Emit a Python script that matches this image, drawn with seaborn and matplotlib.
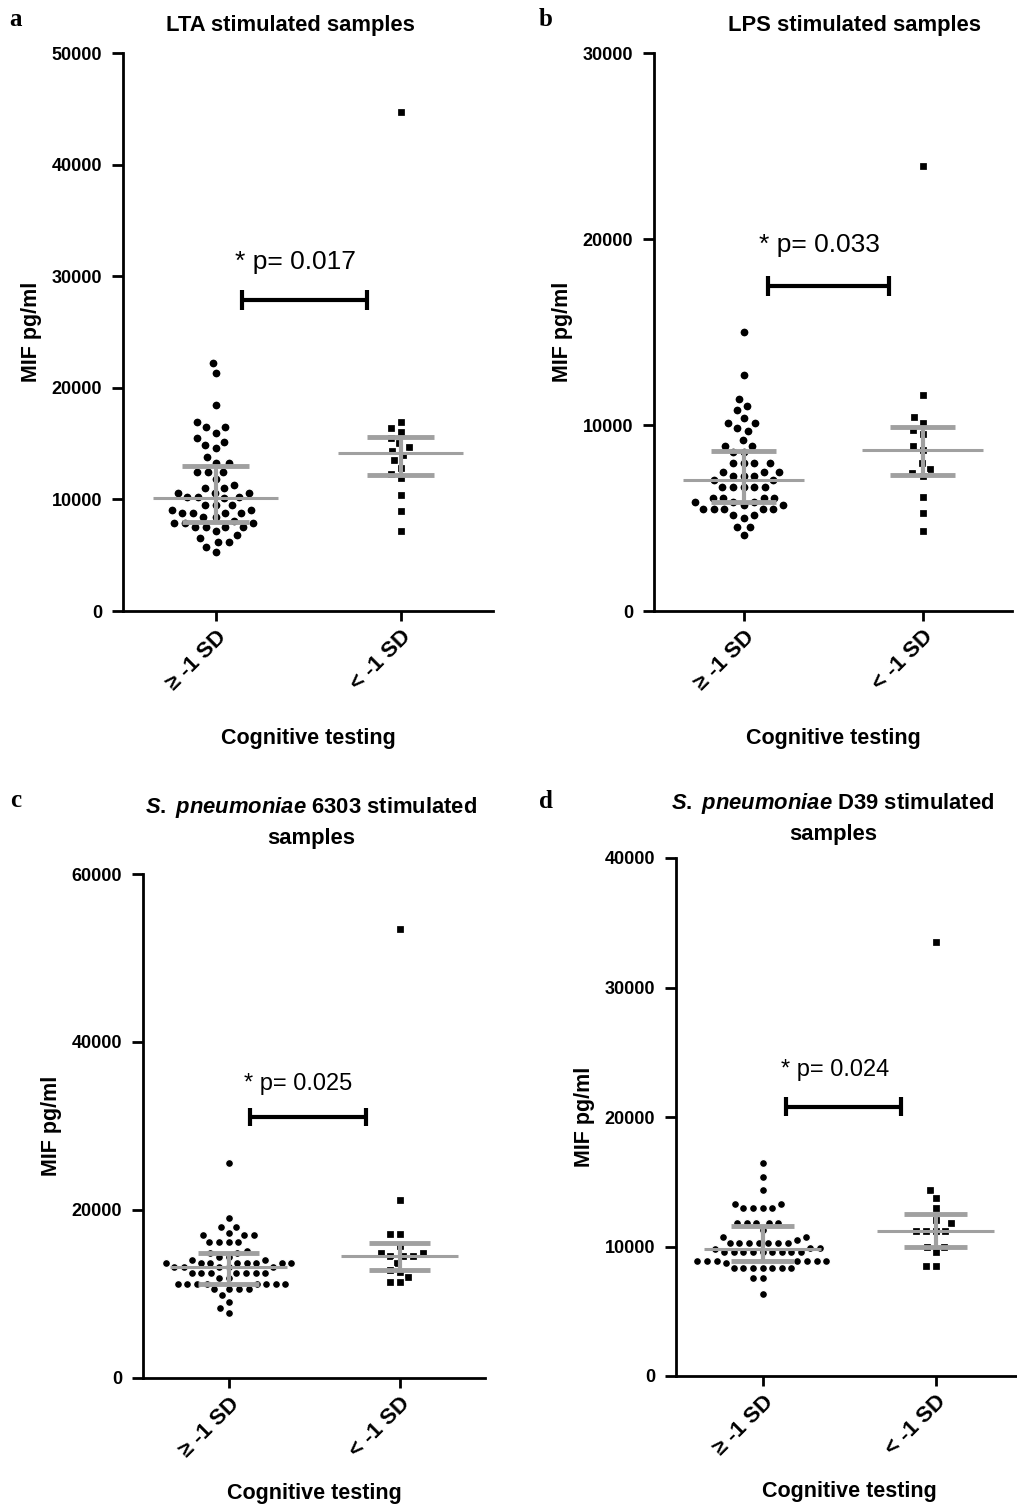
import numpy as np
import pandas as pd
import matplotlib
matplotlib.use("Agg")
import matplotlib.pyplot as plt
import seaborn as sns

sns.set_theme(style="white")
plt.rcParams['font.family'] = ['Liberation Sans', 'DejaVu Sans']
plt.rcParams['mathtext.fontset'] = 'custom'
plt.rcParams['mathtext.it'] = 'Liberation Sans:italic:bold'
plt.rcParams['mathtext.rm'] = 'Liberation Sans:bold'
for key in ['text.color', 'axes.labelcolor', 'xtick.color', 'ytick.color']:
    plt.rcParams[key] = 'black'

groups = ["\u2265 -1 SD", "< -1 SD"]

# MIF values (pg/ml)
lta_high = [22200, 21300, 18460, 16900, 16470, 16470, 15980, 15470, 15170, 14880,
            14630, 13770, 13230, 13230, 12450, 12450, 12450, 11830, 11290, 11020,
            11020, 10600, 10600, 10600, 10240, 10240, 10240, 10100, 9500, 9500,
            9500, 9050, 9050, 8780, 8780, 8780, 8780, 8420, 8420, 8070, 7890,
            7890, 7890, 7530, 7530, 7530, 7530, 7170, 6810, 6540, 6210, 6210,
            5760, 5310]
lta_low = [44700, 16900, 16400, 16000, 15500, 15030, 14700, 14380, 14000, 13500,
           12800, 12300, 11890, 10390, 8960, 7170]

lps_high = [15020, 12690, 11380, 11040, 10810, 10360, 10090, 10090, 9820, 9680,
            9190, 8890, 8890, 8530, 8530, 7950, 7950, 7950, 7950, 7490, 7490,
            7490, 7260, 7260, 7260, 7040, 7040, 6670, 6670, 6670, 6670, 6670,
            6100, 6100, 6100, 6100, 5880, 5880, 5880, 5700, 5700, 5480, 5480,
            5480, 5480, 5480, 5160, 5160, 5000, 4530, 4530, 4090]
lps_low = [23900, 11610, 10410, 10090, 9730, 9520, 8870, 8660, 7940, 7630, 7400,
           7260, 6150, 5250, 4300]

sp6303_high = [25630, 19010, 18010, 18010, 17300, 17020, 17020, 17020, 16190,
               16190, 16190, 16190, 15120, 14840, 14840, 14440, 14440, 14050,
               14050, 13650, 13650, 13650, 13650, 13650, 13650, 13650, 13650,
               13180, 13180, 13180, 13180, 13180, 12540, 12540, 12540, 12540,
               12540, 12540, 12540, 11900, 11900, 11190, 11190, 11190, 11190,
               11190, 11190, 11190, 11190, 10560, 10560, 10560, 10560, 9880,
               9080, 8290, 7780]
sp6303_low = [53450, 21190, 17100, 17100, 15750, 14840, 14840, 14560, 14560,
              14560, 13730, 12900, 12660, 11990, 11470, 11470]

d39_high = [16430, 15390, 14360, 13260, 13260, 12950, 12950, 12950, 12950, 11850,
            11850, 11850, 11850, 11850, 11300, 10760, 10760, 10500, 10250, 10250,
            10250, 10250, 10250, 10250, 10250, 9860, 9860, 9780, 9600, 9600, 9600,
            9600, 9600, 9600, 9600, 9600, 9600, 8880, 8880, 8880, 8880, 8880,
            8880, 8880, 8750, 8320, 8320, 8320, 8320, 8320, 8320, 8320, 7540,
            7540, 6330]
d39_low = [33510, 14360, 13770, 13000, 12050, 11790, 11200, 11200, 11200, 11200,
           9980, 9980, 9600, 8490, 8490]

panels = [
    dict(letter="a", title="LTA stimulated samples", high=lta_high, low=lta_low,
         ymax=50000, step=10000, p="* p= 0.017", bar_y=27900, text_y=31300,
         text_x=0.43, p_size=19, bar_x=(0.145, 0.82), box=(123, 53, 493, 611),
         dot=(5.6, 5.4, 0.9), xlabelpad=24,
         title_xy=(290, 25), letter_xy=(16, 20)),
    dict(letter="b", title="LPS stimulated samples", high=lps_high, low=lps_low,
         ymax=30000, step=10000, p="* p= 0.033", bar_y=17470, text_y=19700,
         text_x=0.425, p_size=19, bar_x=(0.135, 0.815), box=(654, 53, 1012, 611),
         dot=(5.6, 5.4, 0.9), xlabelpad=24,
         title_xy=(855, 25), letter_xy=(546, 20)),
    dict(letter="c", title="$\\it{S.}$ $\\it{pneumoniae}$ 6303 stimulated\nsamples",
         high=sp6303_high, low=sp6303_low,
         ymax=60000, step=20000, p="* p= 0.025", bar_y=31100, text_y=35000,
         text_x=0.41, p_size=17, bar_x=(0.123, 0.807), box=(143, 874, 485, 1378),
         dot=(4.8, 4.9, 0.9), xlabelpad=15,
         title_xy=(311, 822), letter_xy=(16, 800)),
    dict(letter="d", title="$\\it{S.}$ $\\it{pneumoniae}$ D39 stimulated\nsamples",
         high=d39_high, low=d39_low,
         ymax=40000, step=10000, p="* p= 0.024", bar_y=20800, text_y=23600,
         text_x=0.42, p_size=17, bar_x=(0.133, 0.80), box=(676, 858, 1022, 1376),
         dot=(4.8, 4.9, 0.9), xlabelpad=15,
         title_xy=(833, 818), letter_xy=(546, 802)),
]

W, H = 1017, 1505
fig = plt.figure(figsize=(W / 100, H / 100), dpi=100)
grey = "#a0a0a0"

for pn in panels:
    l, t, r, b = pn["box"]
    ax = fig.add_axes([l / W, 1 - b / H, (r - l) / W, (b - t) / H])
    circ, sq, ew = pn["dot"]

    # white rims keep the gaps between neighbouring points
    sns.swarmplot(x=[groups[0]] * len(pn["high"]), y=pn["high"], order=groups,
                  color="black", marker="o", size=circ + ew, edgecolor="white",
                  linewidth=ew, ax=ax, zorder=2)
    sns.swarmplot(x=[groups[1]] * len(pn["low"]), y=pn["low"], order=groups,
                  color="black", marker="s", size=sq + ew, edgecolor="white",
                  linewidth=ew, ax=ax, zorder=2)

    # median with interquartile range
    for i, vals in enumerate([pn["high"], pn["low"]]):
        q1, med, q3 = np.percentile(vals, [25, 50, 75])
        ax.hlines(med, i - 0.34, i + 0.34, color=grey, lw=2.2, zorder=3)
        ax.vlines(i, q1, q3, color=grey, lw=3, zorder=3)
        ax.hlines([q1, q3], i - 0.18, i + 0.18, color=grey, lw=3.5, zorder=3)

    # significance bar
    x0, x1 = pn["bar_x"]
    cap = pn["ymax"] * 0.018
    ax.plot([x0, x1], [pn["bar_y"]] * 2, color="black", lw=3, solid_capstyle="butt")
    ax.vlines([x0, x1], pn["bar_y"] - cap, pn["bar_y"] + cap, color="black", lw=3)
    ax.text(pn["text_x"], pn["text_y"], pn["p"], ha="center", va="center",
            fontsize=pn["p_size"])

    ax.set_xlim(-0.5, 1.5)
    ax.set_ylim(0, pn["ymax"])
    ticks = np.arange(0, pn["ymax"] + 1, pn["step"])
    ax.set_yticks(ticks)
    ax.set_yticklabels([f"{v:.0f}" for v in ticks], fontweight="bold", fontsize=13)
    ax.set_xticks([0, 1])
    ax.set_xticklabels(groups, rotation=45, ha="right", rotation_mode="anchor",
                       fontweight="bold", fontsize=16)
    ax.set_xlabel("Cognitive testing", fontweight="bold", fontsize=15.5,
                  labelpad=pn["xlabelpad"])
    ax.set_ylabel("MIF pg/ml", fontweight="bold", fontsize=15.5, labelpad=7)
    ax.set_facecolor("none")
    for side in ["top", "right"]:
        ax.spines[side].set_visible(False)
    for side in ["left", "bottom"]:
        ax.spines[side].set_linewidth(2)
        ax.spines[side].set_color("black")
    ax.tick_params(axis="y", direction="out", length=8, width=2, color="black",
                   left=True, pad=7)
    ax.tick_params(axis="x", direction="out", length=7, width=2, color="black",
                   bottom=True, pad=4)

    fig.text(pn["title_xy"][0] / W, 1 - pn["title_xy"][1] / H, pn["title"],
             ha="center", va="center", fontweight="bold", fontsize=15.8,
             linespacing=1.45)
    fig.text(pn["letter_xy"][0] / W, 1 - pn["letter_xy"][1] / H, pn["letter"],
             ha="center", va="center", fontweight="bold", fontsize=18,
             family="Liberation Serif")

fig.savefig("out.png", dpi=100)
